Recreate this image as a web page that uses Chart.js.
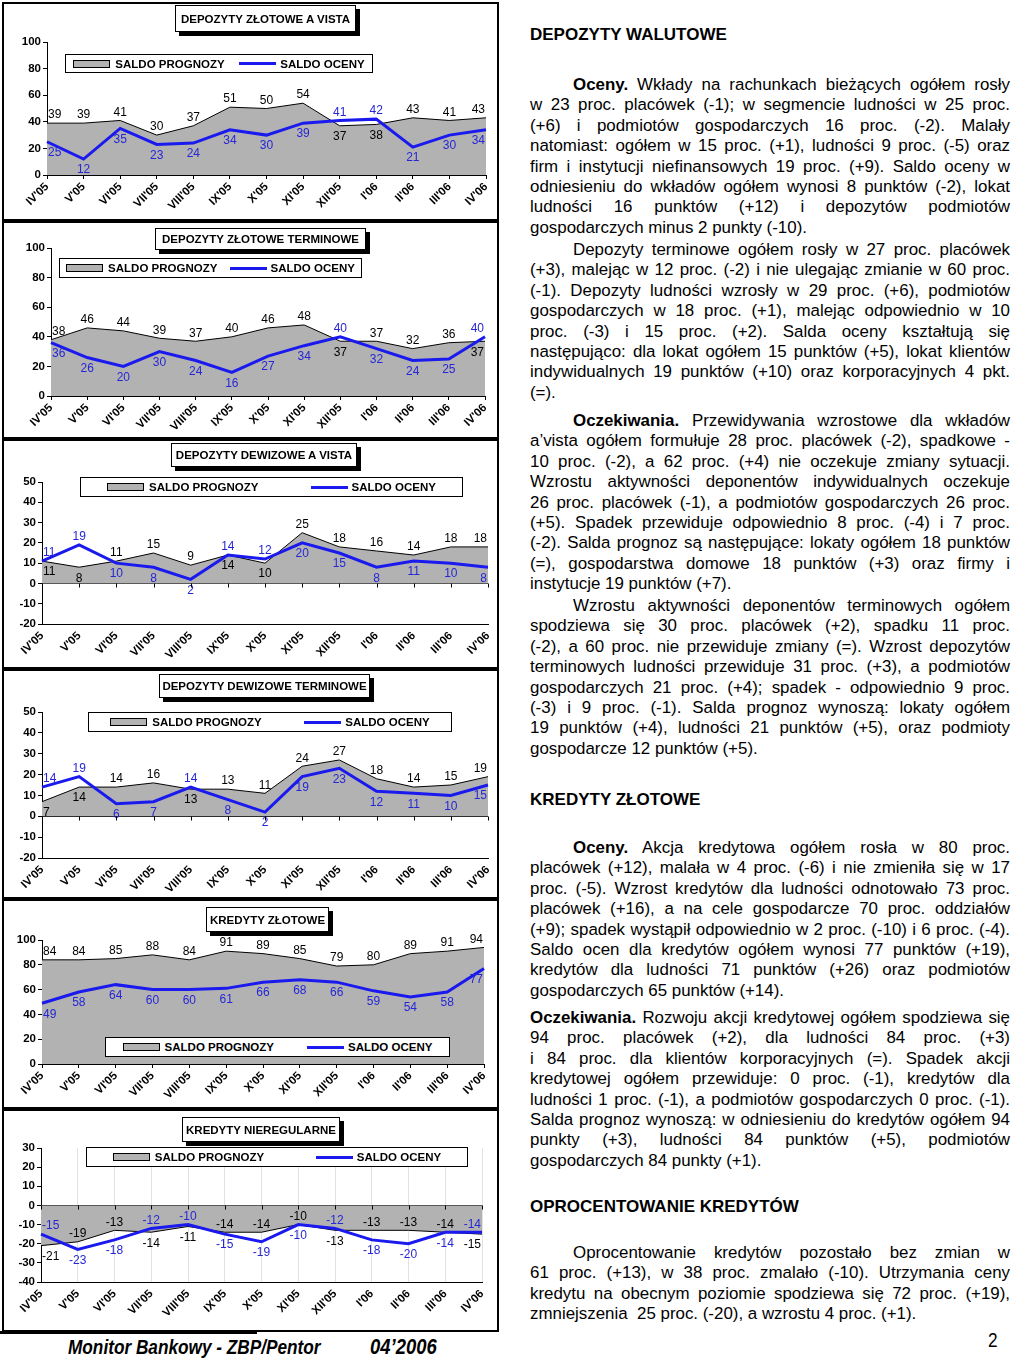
<!DOCTYPE html>
<html lang="pl">
<head>
<meta charset="utf-8">
<title>Monitor Bankowy 04'2006</title>
<script src="https://cdn.jsdelivr.net/npm/chart.js@4.4.1/dist/chart.umd.min.js"></script>
<style>
  html, body { margin: 0; padding: 0; background: #fff; }
  body { width: 1024px; height: 1365px; position: relative; overflow: hidden;
         font-family: "Liberation Sans", Arial, sans-serif; color: #000; }
  .wrap { position: absolute; left: 2px; width: 497px; }
  .frame { position: absolute; left: 2px; width: 497px; box-sizing: border-box; border: 2px solid #000; }
  .title { position: absolute; box-sizing: border-box; border: 1px solid #000; background: #fff;
           box-shadow: 4px 4px 0 #000; font-weight: bold; font-size: 11.5px;
           display: flex; align-items: center; justify-content: center; white-space: nowrap; }
  .legend { position: absolute; box-sizing: border-box; border: 1px solid #000; background: #fff;
            display: flex; align-items: center; justify-content: space-around;
            font-weight: bold; font-size: 11.5px; white-space: nowrap; }
  .legend .item { display: flex; align-items: center; }
  .patch { width: 35px; height: 6px; background: #b2b2b2; border: 1px solid #000; margin-right: 5px; }
  .bline { width: 37px; height: 3px; background: #1a1aee; margin-right: 4px; }
  .h { position: absolute; left: 530px; font-size: 17px; font-weight: bold; line-height: 20px; }
  .txt { position: absolute; left: 530px; width: 480px; font-size: 16.9px; line-height: 20.4px; }
  .txt div { white-space: nowrap; text-align: justify; text-align-last: justify; }
  .txt div.last { text-align: left; text-align-last: left; }
  .txt div.ind { padding-left: 43px; }
  .foot { position: absolute; font-size: 21px; line-height: 24px; transform: scaleX(0.82); transform-origin: left top; white-space: nowrap; }
</style>
</head>
<body>

<div class="h" style="top:25px">DEPOZYTY WALUTOWE</div>
<div class="txt" style="top:75px">
  <div class="ind"><b>Oceny.</b> Wkłady na rachunkach bieżących ogółem rosły</div>
  <div>w 23 proc. placówek (-1); w segmencie ludności w 25 proc.</div>
  <div>(+6) i podmiotów gospodarczych 16 proc. (-2). Malały</div>
  <div>natomiast: ogółem w 15 proc. (+1), ludności 9 proc. (-5) oraz</div>
  <div>firm i instytucji niefinansowych 19 proc. (+9). Saldo oceny w</div>
  <div>odniesieniu do wkładów ogółem wynosi 8 punktów (-2), lokat</div>
  <div>ludności 16 punktów (+12) i depozytów podmiotów</div>
  <div class="last">gospodarczych minus 2 punkty (-10).</div>
</div>
<div class="txt" style="top:240px">
  <div class="ind">Depozyty terminowe ogółem rosły w 27 proc. placówek</div>
  <div>(+3), malejąc w 12 proc. (-2) i nie ulegając zmianie w 60 proc.</div>
  <div>(-1). Depozyty ludności wzrosły w 29 proc. (+6), podmiotów</div>
  <div>gospodarczych w 18 proc. (+1), malejąc odpowiednio w 10</div>
  <div>proc. (-3) i 15 proc. (+2). Salda oceny kształtują się</div>
  <div>następująco: dla lokat ogółem 15 punktów (+5), lokat klientów</div>
  <div>indywidualnych 19 punktów (+10) oraz korporacyjnych 4 pkt.</div>
  <div class="last">(=).</div>
</div>
<div class="txt" style="top:411px">
  <div class="ind"><b>Oczekiwania.</b> Przewidywania wzrostowe dla wkładów</div>
  <div>a’vista ogółem formułuje 28 proc. placówek (-2), spadkowe -</div>
  <div>10 proc. (-2), a 62 proc. (+4) nie oczekuje zmiany sytuacji.</div>
  <div>Wzrostu aktywności deponentów indywidualnych oczekuje</div>
  <div>26 proc. placówek (-1), a podmiotów gospodarczych 26 proc.</div>
  <div>(+5). Spadek przewiduje odpowiednio 8 proc. (-4) i 7 proc.</div>
  <div>(-2). Salda prognoz są następujące: lokaty ogółem 18 punktów</div>
  <div>(=), gospodarstwa domowe 18 punktów (+3) oraz firmy i</div>
  <div class="last">instytucje 19 punktów (+7).</div>
</div>
<div class="txt" style="top:596px">
  <div class="ind">Wzrostu aktywności deponentów terminowych ogółem</div>
  <div>spodziewa się 30 proc. placówek (+2), spadku 11 proc.</div>
  <div>(-2), a 60 proc. nie przewiduje zmiany (=). Wzrost depozytów</div>
  <div>terminowych ludności przewiduje 31 proc. (+3), a podmiotów</div>
  <div>gospodarczych 21 proc. (+4); spadek - odpowiednio 9 proc.</div>
  <div>(-3) i 9 proc. (-1). Salda prognoz wynoszą: lokaty ogółem</div>
  <div>19 punktów (+4), ludności 21 punktów (+5), oraz podmioty</div>
  <div class="last">gospodarcze 12 punktów (+5).</div>
</div>

<div class="h" style="top:790px">KREDYTY ZŁOTOWE</div>
<div class="txt" style="top:838px">
  <div class="ind"><b>Oceny.</b> Akcja kredytowa ogółem rosła w 80 proc.</div>
  <div>placówek (+12), malała w 4 proc. (-6) i nie zmieniła się w 17</div>
  <div>proc. (-5). Wzrost kredytów dla ludności odnotowało 73 proc.</div>
  <div>placówek (+16), a na cele gospodarcze 70 proc. oddziałów</div>
  <div>(+9); spadek wystąpił odpowiednio w 2 proc. (-10) i 6 proc. (-4).</div>
  <div>Saldo ocen dla kredytów ogółem wynosi 77 punktów (+19),</div>
  <div>kredytów dla ludności 71 punktów (+26) oraz podmiotów</div>
  <div class="last">gospodarczych 65 punktów (+14).</div>
</div>
<div class="txt" style="top:1008px">
  <div><b>Oczekiwania.</b> Rozwoju akcji kredytowej ogółem spodziewa się</div>
  <div>94 proc. placówek (+2), dla ludności 84 proc. (+3)</div>
  <div>i 84 proc. dla klientów korporacyjnych (=). Spadek akcji</div>
  <div>kredytowej ogółem przewiduje: 0 proc. (-1), kredytów dla</div>
  <div>ludności 1 proc. (-1), a podmiotów gospodarczych 0 proc. (-1).</div>
  <div>Salda prognoz wynoszą: w odniesieniu do kredytów ogółem 94</div>
  <div>punkty (+3), ludności 84 punktów (+5), podmiotów</div>
  <div class="last">gospodarczych 84 punkty (+1).</div>
</div>

<div class="h" style="top:1197px">OPROCENTOWANIE KREDYTÓW</div>
<div class="txt" style="top:1243px">
  <div class="ind">Oprocentowanie kredytów pozostało bez zmian w</div>
  <div>61 proc. (+13), w 38 proc. zmalało (-10). Utrzymania ceny</div>
  <div>kredytu na obecnym poziomie spodziewa się 72 proc. (+19),</div>
  <div class="last">zmniejszenia &nbsp;25 proc. (-20), a wzrostu 4 proc. (+1).</div>
</div>

<div style="position:absolute;left:0;top:1331px;width:257px;height:3px;background:#000"></div>
<div class="foot" style="left:68px;top:1335px;font-weight:bold;font-style:italic">Monitor Bankowy - ZBP/Pentor</div>
<div class="foot" style="left:370px;top:1335px;font-weight:bold;font-style:italic;font-size:22.5px">04’2006</div>
<div class="foot" style="left:988px;top:1328px">2</div>

<script>
// miesiące na osi X
const months = ["IV'05", "V'05", "VI'05", "VII'05", "VIII'05", "IX'05", "X'05", "XI'05", "XII'05", "I'06", "II'06", "III'06", "IV'06"];

// depozyty złotowe a vista
const zlVistaPrognozy = [39, 39, 41, 30, 37, 51, 50, 54, 37, 38, 43, 41, 43];
const zlVistaOceny    = [25, 12, 35, 23, 24, 34, 30, 39, 41, 42, 21, 30, 34];

// depozyty złotowe terminowe
const zlTermPrognozy = [38, 46, 44, 39, 37, 40, 46, 48, 37, 37, 32, 36, 37];
const zlTermOceny    = [36, 26, 20, 30, 24, 16, 27, 34, 40, 32, 24, 25, 40];

// depozyty dewizowe a vista
const dewVistaPrognozy = [11, 8, 11, 15, 9, 14, 10, 25, 18, 16, 14, 18, 18];
const dewVistaOceny    = [11, 19, 10, 8, 2, 14, 12, 20, 15, 8, 11, 10, 8];

// depozyty dewizowe terminowe
const dewTermPrognozy = [7, 14, 14, 16, 13, 13, 11, 24, 27, 18, 14, 15, 19];
const dewTermOceny    = [14, 19, 6, 7, 14, 8, 2, 19, 23, 12, 11, 10, 15];

// kredyty złotowe
const kredZlPrognozy = [84, 84, 85, 88, 84, 91, 89, 85, 79, 80, 89, 91, 94];
const kredZlOceny    = [49, 58, 64, 60, 60, 61, 66, 68, 66, 59, 54, 58, 77];

// kredyty nieregularne
const kredNierPrognozy = [-21, -19, -13, -14, -11, -14, -14, -10, -13, -13, -13, -14, -15];
const kredNierOceny    = [-15, -23, -18, -12, -10, -15, -19, -10, -12, -18, -20, -14, -14];

const FONT = '"Liberation Sans", Arial, sans-serif';
const BLUE = '#1a1aee';
const LABEL_BLUE = '#2626d6';
const GRAY = '#b2b2b2';

// box = [top, bottom], plot = [left, top, right, bottom], title/legend = [x, y, w, h] (page px)
const panels = [
  { title: 'DEPOZYTY ZŁOTOWE A VISTA', prognozy: zlVistaPrognozy, oceny: zlVistaOceny,
    min: 0, max: 100, step: 20, tieUp: 'oceny',
    box: [2, 221], plot: [47, 42, 486, 175], titleBox: [175, 5, 181, 27], legendBox: [65, 54, 308, 19] },
  { title: 'DEPOZYTY ZŁOTOWE TERMINOWE', prognozy: zlTermPrognozy, oceny: zlTermOceny,
    min: 0, max: 100, step: 10, tieUp: 'oceny',
    box: [221, 439], plot: [51, 248, 485, 396], titleBox: [155, 228, 211, 22], legendBox: [59, 258, 303, 20] },
  { title: 'DEPOZYTY DEWIZOWE A VISTA', prognozy: dewVistaPrognozy, oceny: dewVistaOceny,
    min: -20, max: 50, step: 10, tieUp: 'oceny',
    box: [439, 669], plot: [42, 482, 488, 624], titleBox: [171, 443, 186, 24], legendBox: [80, 477, 383, 20] },
  { title: 'DEPOZYTY DEWIZOWE TERMINOWE', prognozy: dewTermPrognozy, oceny: dewTermOceny,
    min: -20, max: 50, step: 10, tieUp: 'oceny',
    box: [669, 899], plot: [42, 712, 488, 858], titleBox: [159, 674, 211, 24], legendBox: [88, 712, 364, 20] },
  { title: 'KREDYTY ZŁOTOWE', prognozy: kredZlPrognozy, oceny: kredZlOceny,
    min: 0, max: 100, step: 20, tieUp: 'oceny',
    box: [899, 1109], plot: [42, 940, 484, 1064], titleBox: [206, 907, 123, 25], legendBox: [105, 1037, 345, 20] },
  { title: 'KREDYTY NIEREGULARNE', prognozy: kredNierPrognozy, oceny: kredNierOceny,
    min: -40, max: 30, step: 10, tieUp: 'prognozy', vgrid: true,
    box: [1109, 1332], plot: [41, 1148, 482, 1282], titleBox: [182, 1117, 158, 25], legendBox: [86, 1147, 382, 20] }
];

// etykiety wartości: wyższa seria nad punktem, niższa pod punktem
function makeLabelPlugin(tieUp) {
  return {
    id: 'valueLabels',
    afterDatasetsDraw(chart) {
      const { ctx, chartArea } = chart;
      ctx.save();
      ctx.font = '12px ' + FONT;
      ctx.textAlign = 'center';
      ctx.textBaseline = 'middle';
      [0, 1].forEach(di => {
        const meta = chart.getDatasetMeta(di);
        const vals = chart.data.datasets[di].data;
        const other = chart.data.datasets[1 - di].data;
        const name = di === 0 ? 'oceny' : 'prognozy';
        meta.data.forEach((pt, j) => {
          const v = vals[j], w = other[j];
          const up = v > w || (v === w && tieUp === name);
          const txt = String(v);
          const hw = ctx.measureText(txt).width / 2;
          const x = Math.min(Math.max(pt.x, chartArea.left + hw + 1), chartArea.right - hw - 1);
          const y = up ? pt.y - 8 : pt.y + 11;
          ctx.fillStyle = di === 0 ? LABEL_BLUE : '#000';
          ctx.fillText(txt, x, y);
        });
      });
      ctx.restore();
    }
  };
}

// kreski podziałki na linii zera (gdy skala schodzi poniżej zera)
const zeroTicks = {
  id: 'zeroTicks',
  afterDraw(chart) {
    const y = chart.scales.y, x = chart.scales.x;
    if (y.min >= 0) return;
    const y0 = Math.round(y.getPixelForValue(0)) + 0.5;
    const ctx = chart.ctx;
    ctx.save();
    ctx.strokeStyle = '#000';
    ctx.lineWidth = 1;
    ctx.beginPath();
    for (let i = 0; i < months.length; i++) {
      const px = Math.round(x.getPixelForValue(i)) + 0.5;
      ctx.moveTo(px, y0);
      ctx.lineTo(px, y0 + 4);
    }
    ctx.stroke();
    ctx.restore();
  }
};

panels.forEach((p, idx) => {
  const top = p.box[0], h = p.box[1] - p.box[0], w = 497;

  const wrap = document.createElement('div');
  wrap.className = 'wrap';
  wrap.style.top = top + 'px';
  wrap.style.height = h + 'px';
  const canvas = document.createElement('canvas');
  canvas.id = 'chart' + idx;
  wrap.appendChild(canvas);
  document.body.appendChild(wrap);

  const frame = document.createElement('div');
  frame.className = 'frame';
  frame.style.top = top + 'px';
  frame.style.height = h + 'px';
  document.body.appendChild(frame);

  const t = document.createElement('div');
  t.className = 'title';
  t.style.left = p.titleBox[0] + 'px';
  t.style.top = p.titleBox[1] + 'px';
  t.style.width = p.titleBox[2] + 'px';
  t.style.height = p.titleBox[3] + 'px';
  t.textContent = p.title;
  document.body.appendChild(t);

  const lg = document.createElement('div');
  lg.className = 'legend';
  lg.style.left = p.legendBox[0] + 'px';
  lg.style.top = p.legendBox[1] + 'px';
  lg.style.width = p.legendBox[2] + 'px';
  lg.style.height = p.legendBox[3] + 'px';
  lg.innerHTML = '<div class="item"><div class="patch"></div>SALDO PROGNOZY</div>' +
                 '<div class="item"><div class="bline"></div>SALDO OCENY</div>';
  document.body.appendChild(lg);

  // obszar wykresu w układzie kanwy
  const l = p.plot[0] - 2, pt = p.plot[1] - top, r = p.plot[2] - 2, b = p.plot[3] - top;
  const negative = p.min < 0;

  new Chart(canvas, {
    type: 'line',
    data: {
      labels: months,
      datasets: [
        { label: 'SALDO OCENY', data: p.oceny, borderColor: BLUE, borderWidth: 3,
          pointRadius: 0, fill: false, tension: 0, order: 0 },
        { label: 'SALDO PROGNOZY', data: p.prognozy, borderColor: '#000', borderWidth: 1,
          backgroundColor: GRAY, fill: 'origin', pointRadius: 0, tension: 0, order: 1 }
      ]
    },
    options: {
      responsive: true,
      maintainAspectRatio: false,
      animation: false,
      events: [],
      layout: { padding: { left: 0, top: pt, right: w - r, bottom: 0 } },
      plugins: { legend: { display: false }, tooltip: { enabled: false } },
      scales: {
        x: {
          offset: false,
          grid: { drawOnChartArea: !!p.vgrid, color: '#e2e2e2',
                  tickColor: negative ? 'rgba(0,0,0,0)' : '#000', tickLength: 4 },
          border: { display: true, color: '#000', width: 1 },
          ticks: { color: '#000', font: { family: FONT, size: 11.5, weight: 'bold' },
                   minRotation: 45, maxRotation: 45, autoSkip: false, padding: 1 },
          afterFit: s => { s.height = h - b; }
        },
        y: {
          min: p.min, max: p.max,
          ticks: { stepSize: p.step, color: '#000', font: { family: FONT, size: 11.5, weight: 'bold' }, padding: 2 },
          grid: { drawOnChartArea: true,
                  color: c => (c.tick && c.tick.value === 0) ? '#000' : 'rgba(0,0,0,0)',
                  tickColor: '#000', tickLength: 4 },
          border: { display: true, color: '#000', width: 1 },
          afterFit: s => { s.width = l; }
        }
      }
    },
    plugins: [makeLabelPlugin(p.tieUp), zeroTicks]
  });
});
</script>
</body>
</html>
